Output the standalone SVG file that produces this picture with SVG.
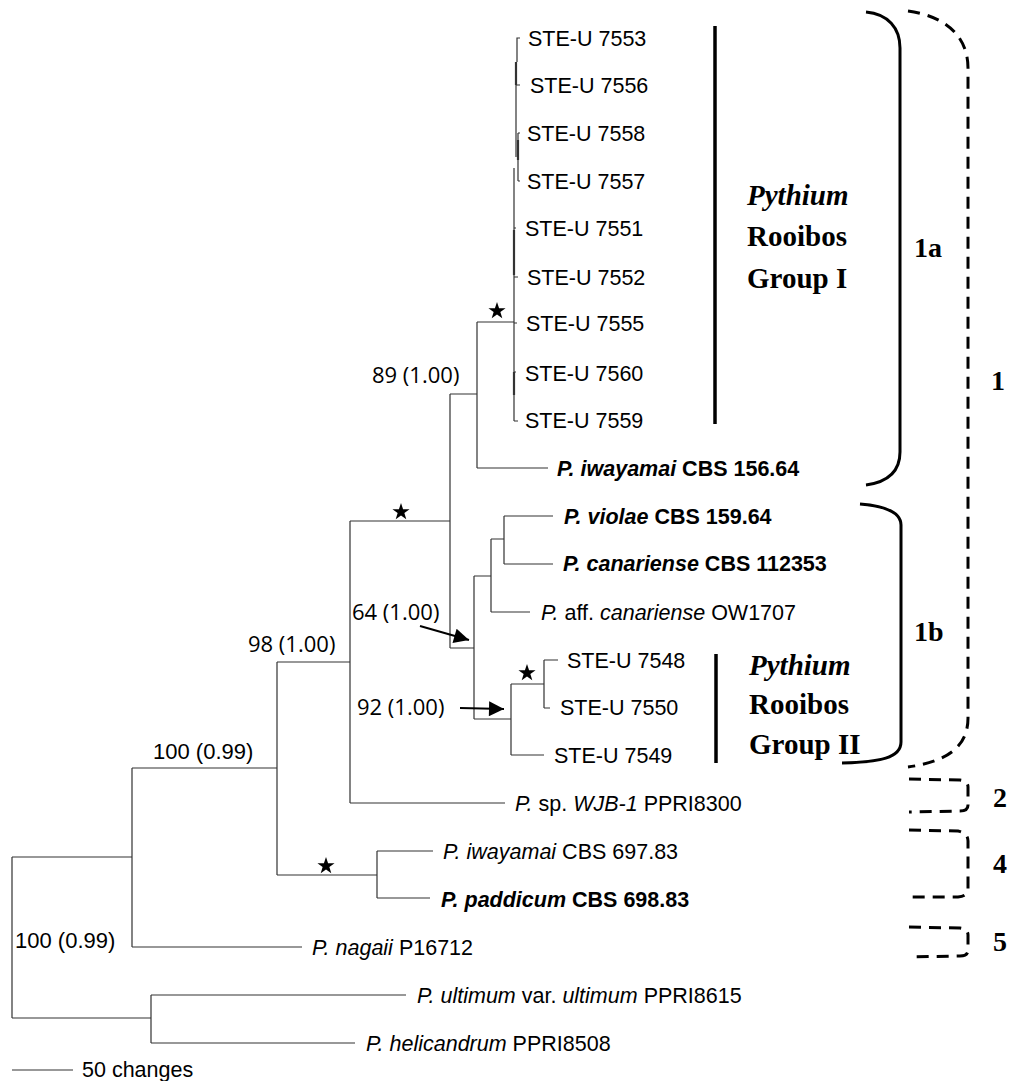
<svg xmlns="http://www.w3.org/2000/svg" width="1010" height="1081" viewBox="0 0 1010 1081">
<defs>
<style>
.t{fill:none;stroke:#333;stroke-width:1.2}
.tk{fill:none;stroke:#333;stroke-width:2.2}
.lb{font-family:"Liberation Sans",Arial,sans-serif;font-size:21.5px;fill:#000}
.b{font-weight:bold}
.i{font-style:italic}
.sup{font-family:"Open Sans","Noto Sans",sans-serif;font-size:22px;fill:#000}
.sa{font-family:"Liberation Sans",Arial,sans-serif;font-size:22px;fill:#000}
.grp{font-family:"Liberation Serif","Times New Roman",serif;font-size:29px;font-weight:bold;fill:#000}
.cl{font-family:"Liberation Serif","Times New Roman",serif;font-size:28px;font-weight:bold;fill:#000}
.br{fill:none;stroke:#000;stroke-width:3}
.bd{fill:none;stroke:#000;stroke-width:3;stroke-dasharray:12 8}
.gl{stroke:#000;stroke-width:3.5}
.ar{stroke:#000;stroke-width:2;fill:none}
</style>
<path id="star" d="M0,-9 L2.08,-2.87 L8.56,-2.78 L3.36,1.09 L5.29,7.28 L0,3.53 L-5.29,7.28 L-3.36,1.09 L-8.56,-2.78 L-2.08,-2.87 Z" fill="#000"/>
<marker id="ah" viewBox="0 0 10 10" refX="10" refY="5" markerWidth="20" markerHeight="15" markerUnits="userSpaceOnUse" orient="auto">
<path d="M0,0 L10,5 L0,10 Z" fill="#000"/>
</marker>
</defs>
<rect width="1010" height="1081" fill="#fff"/>

<g id="connectors">
<path class="t" d="M12 857 V1018 M12 857 H132 M12 1018 H151"/>
<path class="t" d="M151 995 V1043 M151 995 H406 M151 1043 H355"/>
<path class="t" d="M132 768 V947 M132 768 H277 M132 947 H302"/>
<path class="t" d="M277 662 V875 M277 662 H350 M277 875 H377"/>
<path class="t" d="M377 851 V898 M377 851 H433 M377 898 H430"/>
<path class="t" d="M350 521 V803 M350 521 H450 M350 803 H505"/>
<path class="t" d="M450 394 V648 M450 394 H477 M450 648 H474"/>
<path class="t" d="M477 322 V468 M477 322 H514 M477 468 H548"/>
<path class="t" d="M520 38 H517 V62 M516 62 V157 M516 85 H520 M518 133 V181 M518 133 H520 M518 181 H520 M514 168 V421 M514 228 H516 M514 277 H518 M514 323 H517 M514 372 H516 M514 421 H518"/>
<path class="tk" d="M516 62 V85 M514 230 V275 M514 372 V395 M518 140 V160"/>
<path class="t" d="M474 576 V719 M474 576 H491 M474 719 H511"/>
<path class="t" d="M491 539 V612 M491 539 H504 M491 612 H530"/>
<path class="t" d="M504 516 V564 M504 516 H553 M504 564 H553"/>
<path class="t" d="M511 684 V755 M511 684 H544 M511 755 H544"/>
<path class="t" d="M544 660 V708 M544 660 H558 M544 708 H550"/>
<path class="t" d="M12 1070 H73"/>
<line class="ar" x1="420" y1="626" x2="469" y2="640" marker-end="url(#ah)"/>
<line class="ar" x1="460" y1="708" x2="504" y2="709" marker-end="url(#ah)"/>
</g>

<g id="stars">
<use href="#star" x="497" y="311"/>
<use href="#star" x="401" y="512"/>
<use href="#star" x="527" y="673"/>
<use href="#star" x="326" y="866"/>
</g>

<g id="support-labels">
<text class="sup" x="372" y="383">89 (1.00)</text>
<text class="sup" x="248" y="652">98 (1.00)</text>
<text class="sup" x="352" y="620">64 (1.00)</text>
<text class="sup" x="357" y="715">92 (1.00)</text>
<text class="sa" x="153" y="759">100 (0.99)</text>
<text class="sa" x="15" y="948">100 (0.99)</text>
</g>

<g id="taxa">
<text class="lb" x="528" y="46">STE-U 7553</text>
<text class="lb" x="530" y="93">STE-U 7556</text>
<text class="lb" x="527" y="141">STE-U 7558</text>
<text class="lb" x="527" y="189">STE-U 7557</text>
<text class="lb" x="525" y="236">STE-U 7551</text>
<text class="lb" x="527" y="285">STE-U 7552</text>
<text class="lb" x="526" y="331">STE-U 7555</text>
<text class="lb" x="525" y="381">STE-U 7560</text>
<text class="lb" x="525" y="428">STE-U 7559</text>
<text class="lb b" x="557" y="476"><tspan class="i">P. iwayamai</tspan> CBS 156.64</text>
<text class="lb b" x="564" y="524"><tspan class="i">P. violae</tspan> CBS 159.64</text>
<text class="lb b" x="563" y="571"><tspan class="i">P. canariense</tspan> CBS 112353</text>
<text class="lb" x="541" y="620"><tspan class="i">P.</tspan> aff. <tspan class="i">canariense</tspan> OW1707</text>
<text class="lb" x="567" y="668">STE-U 7548</text>
<text class="lb" x="560" y="715">STE-U 7550</text>
<text class="lb" x="554" y="763">STE-U 7549</text>
<text class="lb" x="515" y="811"><tspan class="i">P.</tspan> sp. <tspan class="i">WJB-1</tspan> PPRI8300</text>
<text class="lb" x="443" y="859"><tspan class="i">P. iwayamai</tspan> CBS 697.83</text>
<text class="lb b" x="441" y="907"><tspan class="i">P. paddicum</tspan> CBS 698.83</text>
<text class="lb" x="312" y="955"><tspan class="i">P. nagaii</tspan> P16712</text>
<text class="lb" x="417" y="1003"><tspan class="i">P. ultimum</tspan> var. <tspan class="i">ultimum</tspan> PPRI8615</text>
<text class="lb" x="366" y="1051"><tspan class="i">P. helicandrum</tspan> PPRI8508</text>
<text class="lb" x="82" y="1077">50 changes</text>
</g>

<g id="group-I">
<line class="gl" x1="715" y1="26" x2="715" y2="424"/>
<text class="grp i" x="747" y="205">Pythium</text>
<text class="grp" x="747" y="246">Rooibos</text>
<text class="grp" x="747" y="288">Group I</text>
</g>

<g id="group-II">
<line class="gl" x1="716" y1="654" x2="716" y2="763"/>
<text class="grp i" x="749" y="675">Pythium</text>
<text class="grp" x="749" y="714">Rooibos</text>
<text class="grp" x="749" y="754">Group II</text>
</g>

<g id="clade-1a">
<path class="br" d="M866 12 C888 14 900 28 900 48 L900 452 C900 472 888 482 866 485"/>
<text class="cl" x="914" y="257">1a</text>
</g>
<g id="clade-1b">
<path class="br" d="M860 504 C885 506 901 512 901 525 L901 742 C901 758 880 762 842 763"/>
<text class="cl" x="914" y="641">1b</text>
</g>
<g id="clade-1">
<path class="bd" d="M908 11 C945 16 968 36 968 68 L968 718 C968 748 945 762 908 767"/>
<text class="cl" x="991" y="390">1</text>
</g>
<g id="clade-2">
<path class="bd" d="M909 779 L960 780 Q968 781 968 787 L968 805 Q968 811 960 811 L909 812"/>
<text class="cl" x="993" y="807">2</text>
</g>
<g id="clade-4">
<path class="bd" d="M909 830 L958 831 Q968 833 968 841 L968 889 Q968 896 958 897 L911 897"/>
<text class="cl" x="993" y="873">4</text>
</g>
<g id="clade-5">
<path class="bd" d="M909 927 L960 928 Q968 929 968 935 L968 950 Q968 956 960 956 L909 957"/>
<text class="cl" x="993" y="951">5</text>
</g>
</svg>
